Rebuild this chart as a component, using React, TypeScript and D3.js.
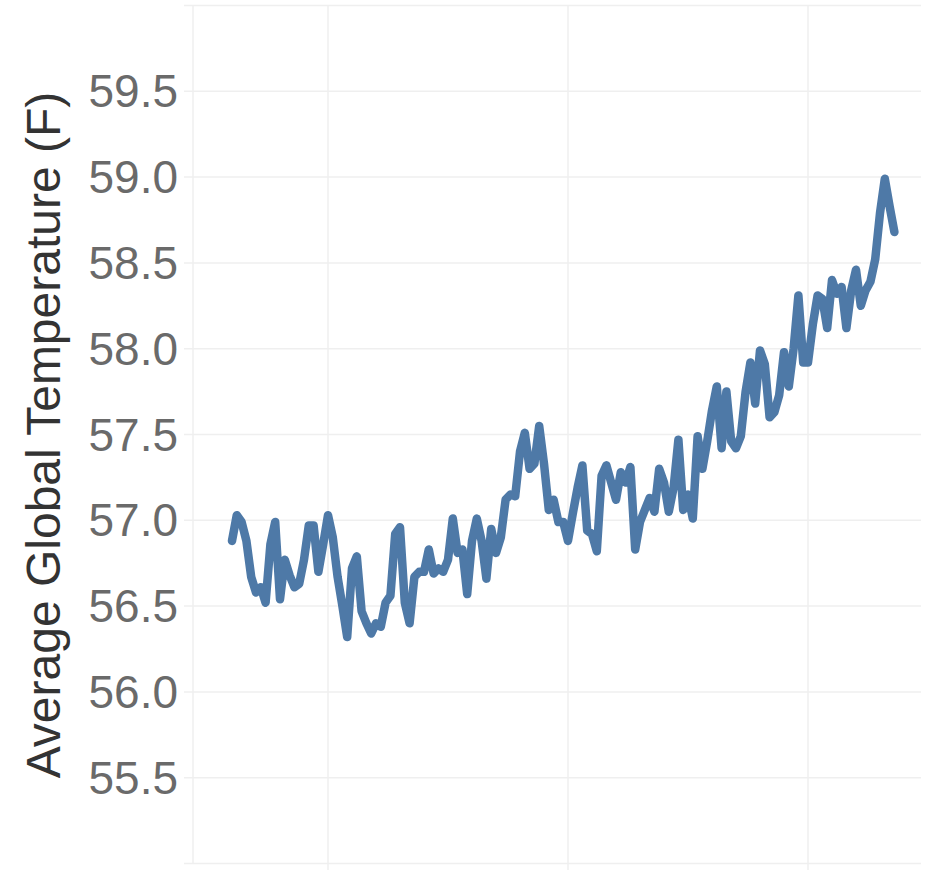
import React from "react";
import * as d3 from "d3";

const START_YEAR = 1880;
// Average global temperature (°F), one value per year from 1880 to 2018
const temps: number[] = [
  56.88, 57.03, 56.99, 56.88, 56.67, 56.58, 56.61, 56.52, 56.86, 56.99,
  56.54, 56.77, 56.68, 56.61, 56.63, 56.77, 56.97, 56.97, 56.70, 56.86,
  57.03, 56.90, 56.67, 56.50, 56.32, 56.72, 56.79, 56.47, 56.40, 56.34,
  56.40, 56.38, 56.52, 56.56, 56.92, 56.96, 56.52, 56.40, 56.67, 56.70,
  56.70, 56.83, 56.69, 56.72, 56.70, 56.77, 57.01, 56.81, 56.83, 56.57,
  56.88, 57.01, 56.88, 56.66, 56.95, 56.81, 56.90, 57.12, 57.15, 57.14,
  57.40, 57.51, 57.30, 57.33, 57.55, 57.33, 57.06, 57.12, 56.99, 56.99,
  56.88, 57.04, 57.19, 57.32, 56.94, 56.92, 56.82, 57.26, 57.32, 57.22,
  57.12, 57.28, 57.22, 57.31, 56.83, 56.99, 57.06, 57.13, 57.05, 57.30,
  57.22, 57.05, 57.19, 57.47, 57.06, 57.15, 57.01, 57.49, 57.30, 57.46,
  57.64, 57.78, 57.42, 57.75, 57.46, 57.42, 57.49, 57.75, 57.92, 57.68,
  57.99, 57.91, 57.60, 57.63, 57.73, 57.98, 57.78, 58.00, 58.31, 57.92,
  57.92, 58.14, 58.31, 58.29, 58.12, 58.40, 58.32, 58.36, 58.12, 58.34,
  58.46, 58.25, 58.34, 58.39, 58.52, 58.79, 58.99, 58.83, 58.68,
];

const yTicks: number[] = [55.5, 56.0, 56.5, 57.0, 57.5, 58.0, 58.5, 59.0, 59.5];
const yGrid: number[] = [55, 55.5, 56, 56.5, 57, 57.5, 58, 58.5, 59, 59.5, 60];
const xGridYears: number[] = [1900, 1950, 2000];
const yTitle = "Average Global Temperature (F)";

const W = 943;
const H = 870;

export default function App() {
  const data = temps.map((t, i) => ({ year: START_YEAR + i, t }));
  const x = d3.scaleLinear().domain([1900, 2000]).range([328, 808]);
  const y = d3.scaleLinear().domain([55, 60]).range([863.5, 5.5]);
  const line = d3
    .line<{ year: number; t: number }>()
    .x((d) => x(d.year))
    .y((d) => y(d.t));

  const gridColor = "#efefef";
  const font = "'Liberation Sans', Arial, sans-serif";

  return (
    <svg
      width={W}
      height={H}
      style={{ position: "absolute", left: 0, top: 0, display: "block", background: "#fff" }}
    >
      {yGrid.map((v) => (
        <line
          key={"h" + v}
          x1={184}
          x2={921}
          y1={y(v)}
          y2={y(v)}
          stroke={gridColor}
          strokeWidth={1.5}
        />
      ))}
      <line x1={193} x2={193} y1={y(60)} y2={y(55)} stroke={gridColor} strokeWidth={1.5} />
      {xGridYears.map((yr) => (
        <line
          key={"v" + yr}
          x1={x(yr)}
          x2={x(yr)}
          y1={y(60)}
          y2={H}
          stroke={gridColor}
          strokeWidth={1.5}
        />
      ))}
      {yTicks.map((v) => (
        <text
          key={"t" + v}
          x={178}
          y={y(v)}
          textAnchor="end"
          dominantBaseline="central"
          fontFamily={font}
          fontSize={46}
          fill="#6a6a6a"
        >
          {v.toFixed(1)}
        </text>
      ))}
      <text
        transform={`translate(60, 435) rotate(-90)`}
        textAnchor="middle"
        fontFamily={font}
        fontSize={48}
        fill="#333333"
      >
        {yTitle}
      </text>
      <path
        d={line(data) || ""}
        fill="none"
        stroke="#4e79a7"
        strokeWidth={8.5}
        strokeLinejoin="round"
        strokeLinecap="round"
      />
    </svg>
  );
}
